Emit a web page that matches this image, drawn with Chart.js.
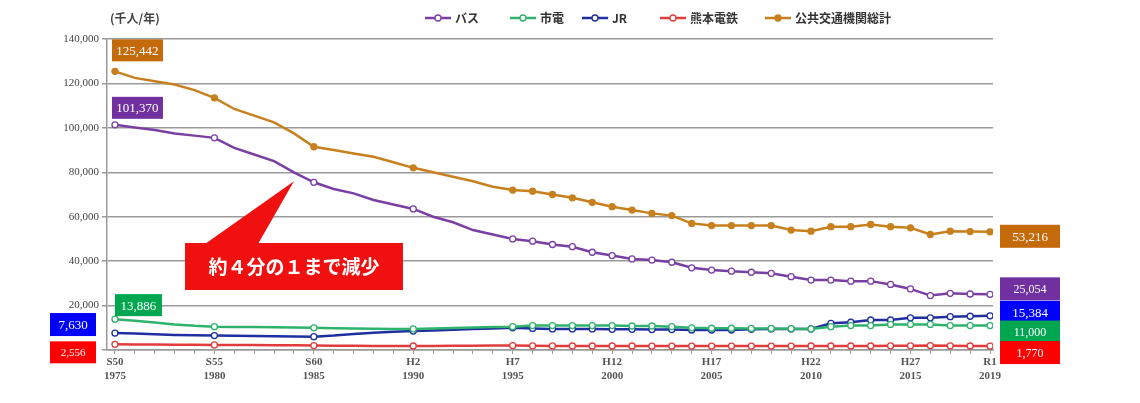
<!DOCTYPE html>
<html>
<head>
<meta charset="utf-8">
<script src="https://cdn.jsdelivr.net/npm/chart.js@4"></script>
<style>
  body { margin: 0; background: #fff; }
  #wrap { width: 1140px; height: 403px; }
</style>
</head>
<body>
<div id="wrap"><canvas id="c"></canvas></div>
<script>
const years = [];
for (let y = 1975; y <= 2019; y++) years.push(y);

const tickYears = [1975, 1980, 1985, 1990, 1995, 2000, 2005, 2010, 2015, 2019];
const tickEras = ['S50', 'S55', 'S60', 'H2', 'H7', 'H12', 'H17', 'H22', 'H27', 'R1'];

const bus = [101370, 100200, 99000, 97500, 96500, 95500, 91000, 88000, 85000, 80000,
  75500, 72500, 70500, 67500, 65500, 63500, 60000, 57500, 54000, 52000,
  50000, 49000, 47500, 46500, 44000, 42500, 41000, 40500, 39500, 37000,
  36000, 35500, 35000, 34500, 33000, 31500, 31500, 31000, 31000, 29500,
  27500, 24500, 25500, 25200, 25054];
const tram = [13886, 13200, 12400, 11500, 10900, 10500, 10400, 10300, 10200, 10100,
  10000, 9800, 9700, 9600, 9500, 9500, 9700, 9900, 10100, 10300,
  10500, 11000, 11000, 11000, 11000, 11000, 10800, 10800, 10500, 10000,
  9800, 9800, 9700, 9700, 9600, 9500, 10500, 11000, 11000, 11500,
  11500, 11500, 11000, 11000, 11000];
const jr = [7630, 7400, 7100, 6800, 6600, 6500, 6400, 6300, 6200, 6100,
  6000, 6500, 7200, 7800, 8200, 8500, 8800, 9100, 9400, 9700,
  10000, 9700, 9500, 9500, 9500, 9300, 9300, 9200, 9200, 9000,
  9000, 9000, 9300, 9500, 9500, 9500, 12000, 12500, 13500, 13500,
  14500, 14500, 15000, 15200, 15384];
const dentetsu = [2556, 2500, 2450, 2400, 2350, 2300, 2250, 2200, 2150, 2100,
  2000, 1950, 1900, 1850, 1800, 1800, 1850, 1900, 1950, 2000,
  2000, 1900, 1850, 1800, 1800, 1800, 1800, 1750, 1750, 1750,
  1750, 1750, 1750, 1750, 1750, 1800, 1800, 1800, 1800, 1900,
  1900, 2000, 1900, 1800, 1770];
const total = [125442, 122500, 121000, 119500, 117000, 113500, 108500, 105500, 102500, 97500,
  91500, 90000, 88500, 87000, 84500, 82000, 80000, 78000, 76000, 73500,
  72000, 71500, 70000, 68500, 66500, 64500, 63000, 61500, 60500, 57000,
  56000, 56000, 56000, 56000, 54000, 53500, 55500, 55500, 56500, 55500,
  55000, 52000, 53500, 53300, 53216];

const seriesNames = ['バス', '市電', 'JR', '熊本電鉄', '公共交通機関総計'];
const lineColors = ['#7a3fa3', '#2fb36c', '#1f2fa0', '#e03c3c', '#c8801e'];
const boxColors = ['#7030a0', '#00a650', '#0000ff', '#ff0000', '#c46a0b'];
const seriesData = [bus, tram, jr, dentetsu, total];

function pts(arr) { return arr.map((v, i) => ({ x: years[i], y: v })); }
function radius(ctx) {
  const yr = years[ctx.dataIndex];
  return (yr < 1995 && (yr - 1975) % 5 !== 0) ? 0 : 3;
}

const datasets = seriesData.map((arr, i) => ({
  label: seriesNames[i],
  data: pts(arr),
  borderColor: lineColors[i],
  backgroundColor: i === 4 ? lineColors[i] : '#ffffff',
  pointBorderColor: lineColors[i],
  pointRadius: radius,
  pointBorderWidth: 1.3,
  borderWidth: 2.5,
  tension: 0,
}));

const serif = '"Liberation Serif", "DejaVu Serif", serif';
const jp = '"Noto Sans CJK JP", sans-serif';

function box(ctx, x, y, w, h, color, text, size) {
  ctx.fillStyle = color;
  ctx.fillRect(x, y, w, h);
  ctx.fillStyle = '#fff';
  ctx.font = (size || 13) + 'px ' + serif;
  ctx.textAlign = 'center';
  ctx.textBaseline = 'middle';
  ctx.fillText(text, x + w / 2, y + h / 2 + 1);
}

const overlay = {
  id: 'overlay',
  afterDraw(chart) {
    const ctx = chart.ctx;
    const xs = chart.scales.x, ys = chart.scales.y;
    ctx.save();
    // unit
    ctx.fillStyle = '#444';
    ctx.font = 'bold 12px ' + jp;
    ctx.textAlign = 'left';
    ctx.textBaseline = 'middle';
    ctx.fillText('(千人/年)', 110, 18);
    // legend
    let lx = 425;
    const legendGaps = [85, 72, 78, 105, 0];
    seriesNames.forEach((n, i) => {
      ctx.strokeStyle = lineColors[i];
      ctx.lineWidth = 2.5;
      ctx.beginPath(); ctx.moveTo(lx, 18); ctx.lineTo(lx + 26, 18); ctx.stroke();
      ctx.beginPath(); ctx.arc(lx + 13, 18, 3, 0, Math.PI * 2);
      ctx.fillStyle = i === 4 ? lineColors[i] : '#fff';
      ctx.fill(); ctx.lineWidth = 1.3; ctx.stroke();
      ctx.fillStyle = '#333';
      ctx.font = 'bold 12px ' + jp;
      ctx.textAlign = 'left';
      ctx.fillText(n, lx + 30, 18);
      lx += legendGaps[i] + 0;
    });
    // value boxes
    const first = i => ys.getPixelForValue(seriesData[i][0]);
    const last = i => ys.getPixelForValue(seriesData[i][seriesData[i].length - 1]);
    const x0 = xs.getPixelForValue(1975);
    box(ctx, x0 - 3, first(4) - 32, 51, 22, boxColors[4], '125,442');
    box(ctx, x0 - 3, first(0) - 28, 51, 22, boxColors[0], '101,370');
    box(ctx, x0, first(1) - 25, 47, 22, boxColors[1], '13,886');
    box(ctx, 50, first(2) - 20, 46, 23, boxColors[2], '7,630');
    box(ctx, 50, first(3) - 3, 46, 22, boxColors[3], '2,556', 11);
    const rx = 1000;
    box(ctx, rx, last(4) - 7, 60, 23, boxColors[4], '53,216');
    box(ctx, rx, last(0) - 17, 60, 23, boxColors[0], '25,054', 12);
    box(ctx, rx, last(2) - 15, 60, 23, boxColors[2], '15,384');
    box(ctx, rx, last(1) - 5, 60, 23, boxColors[1], '11,000', 12);
    box(ctx, rx, last(3) - 5, 60, 23, boxColors[3], '1,770', 12);
    // callout
    const tipX = xs.getPixelForValue(1984), tipY = ys.getPixelForValue(76000);
    ctx.fillStyle = '#f01010';
    ctx.beginPath();
    ctx.moveTo(205, 244); ctx.lineTo(tipX, tipY); ctx.lineTo(258, 244);
    ctx.closePath(); ctx.fill();
    ctx.fillRect(185, 243, 218, 47);
    ctx.fillStyle = '#fff';
    ctx.font = 'bold 19px ' + jp;
    ctx.textAlign = 'center';
    ctx.fillText('約４分の１まで減少', 294, 267);
    ctx.restore();
  }
};

new Chart(document.getElementById('c'), {
  type: 'line',
  data: { datasets },
  plugins: [overlay],
  options: {
    responsive: true,
    maintainAspectRatio: false,
    animation: false,
    layout: { padding: { top: 39, right: 147, left: 0, bottom: 0 } },
    plugins: { legend: { display: false }, tooltip: { enabled: false } },
    scales: {
      x: {
        type: 'linear',
        min: 1974.6,
        max: 2019.15,
        afterBuildTicks: s => { s.ticks = years.map(v => ({ value: v })); },
        afterFit: s => { s.height = 53; },
        grid: {
          drawOnChartArea: false,
          drawTicks: true,
          tickLength: 4,
          color: '#999',
        },
        border: { color: '#999', width: 1.5 },
        ticks: {
          autoSkip: false,
          maxRotation: 0,
          color: '#555',
          font: { family: serif, size: 11, weight: 'bold' },
          padding: 2,
          callback: v => {
            const k = tickYears.indexOf(v);
            return k < 0 ? '' : [tickEras[k], String(v)];
          },
        },
      },
      y: {
        min: 0,
        max: 140000,
        afterFit: s => { s.width = 107; },
        grid: { color: '#9a9a9a', lineWidth: 1.5, drawTicks: true, tickLength: 5 },
        border: { color: '#999', width: 1.5 },
        ticks: {
          stepSize: 20000,
          color: '#444',
          font: { family: serif, size: 11 },
          padding: 3,
          callback: v => v === 0 ? '' : v.toLocaleString('en-US'),
        },
      },
    },
  },
});
</script>
</body>
</html>
